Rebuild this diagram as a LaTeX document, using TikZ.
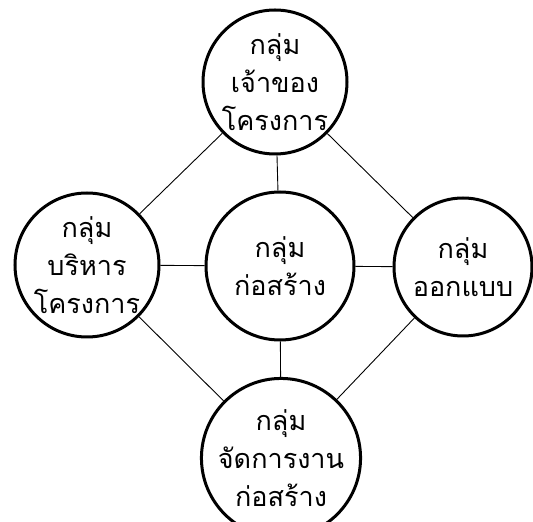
\documentclass[tikz,border=0pt]{standalone}
\usepackage{fontspec}
\newfontfamily\thaifont[Script=Thai]{Loma}
\tikzstyle{group}=[draw=black,line width=3pt,circle,inner sep=0pt,align=center,font=\thaifont\fontsize{27}{38}\selectfont]
\tikzstyle{link}=[line width=0.9pt]

\begin{document}
\begin{tikzpicture}[x=1pt,y=1pt]
  \useasboundingbox (0,0) rectangle (533,522);
  \node[group,minimum size=144pt] (owner) at (275,440) {กลุ่ม\\เจ้าของ\\โครงการ};
  \node[group,minimum size=144pt] (manage) at (87,257) {กลุ่ม\\บริหาร\\โครงการ};
  \node[group,minimum size=148pt] (build) at (280,256) {กลุ่ม\\ก่อสร้าง};
  \node[group,minimum size=138pt] (design) at (463,255) {กลุ่ม\\ออกแบบ};
  \node[group,minimum size=140pt] (site) at (281,64) {กลุ่ม\\จัดการงาน\\ก่อสร้าง};
  % links between the groups
  \draw[link] (owner) -- (manage);
  \draw[link] (owner) -- (build);
  \draw[link] (owner) -- (design);
  \draw[link] (manage) -- (build);
  \draw[link] (build) -- (design);
  \draw[link] (manage) -- (site);
  \draw[link] (build) -- (site);
  \draw[link] (design) -- (site);
\end{tikzpicture}
\end{document}
